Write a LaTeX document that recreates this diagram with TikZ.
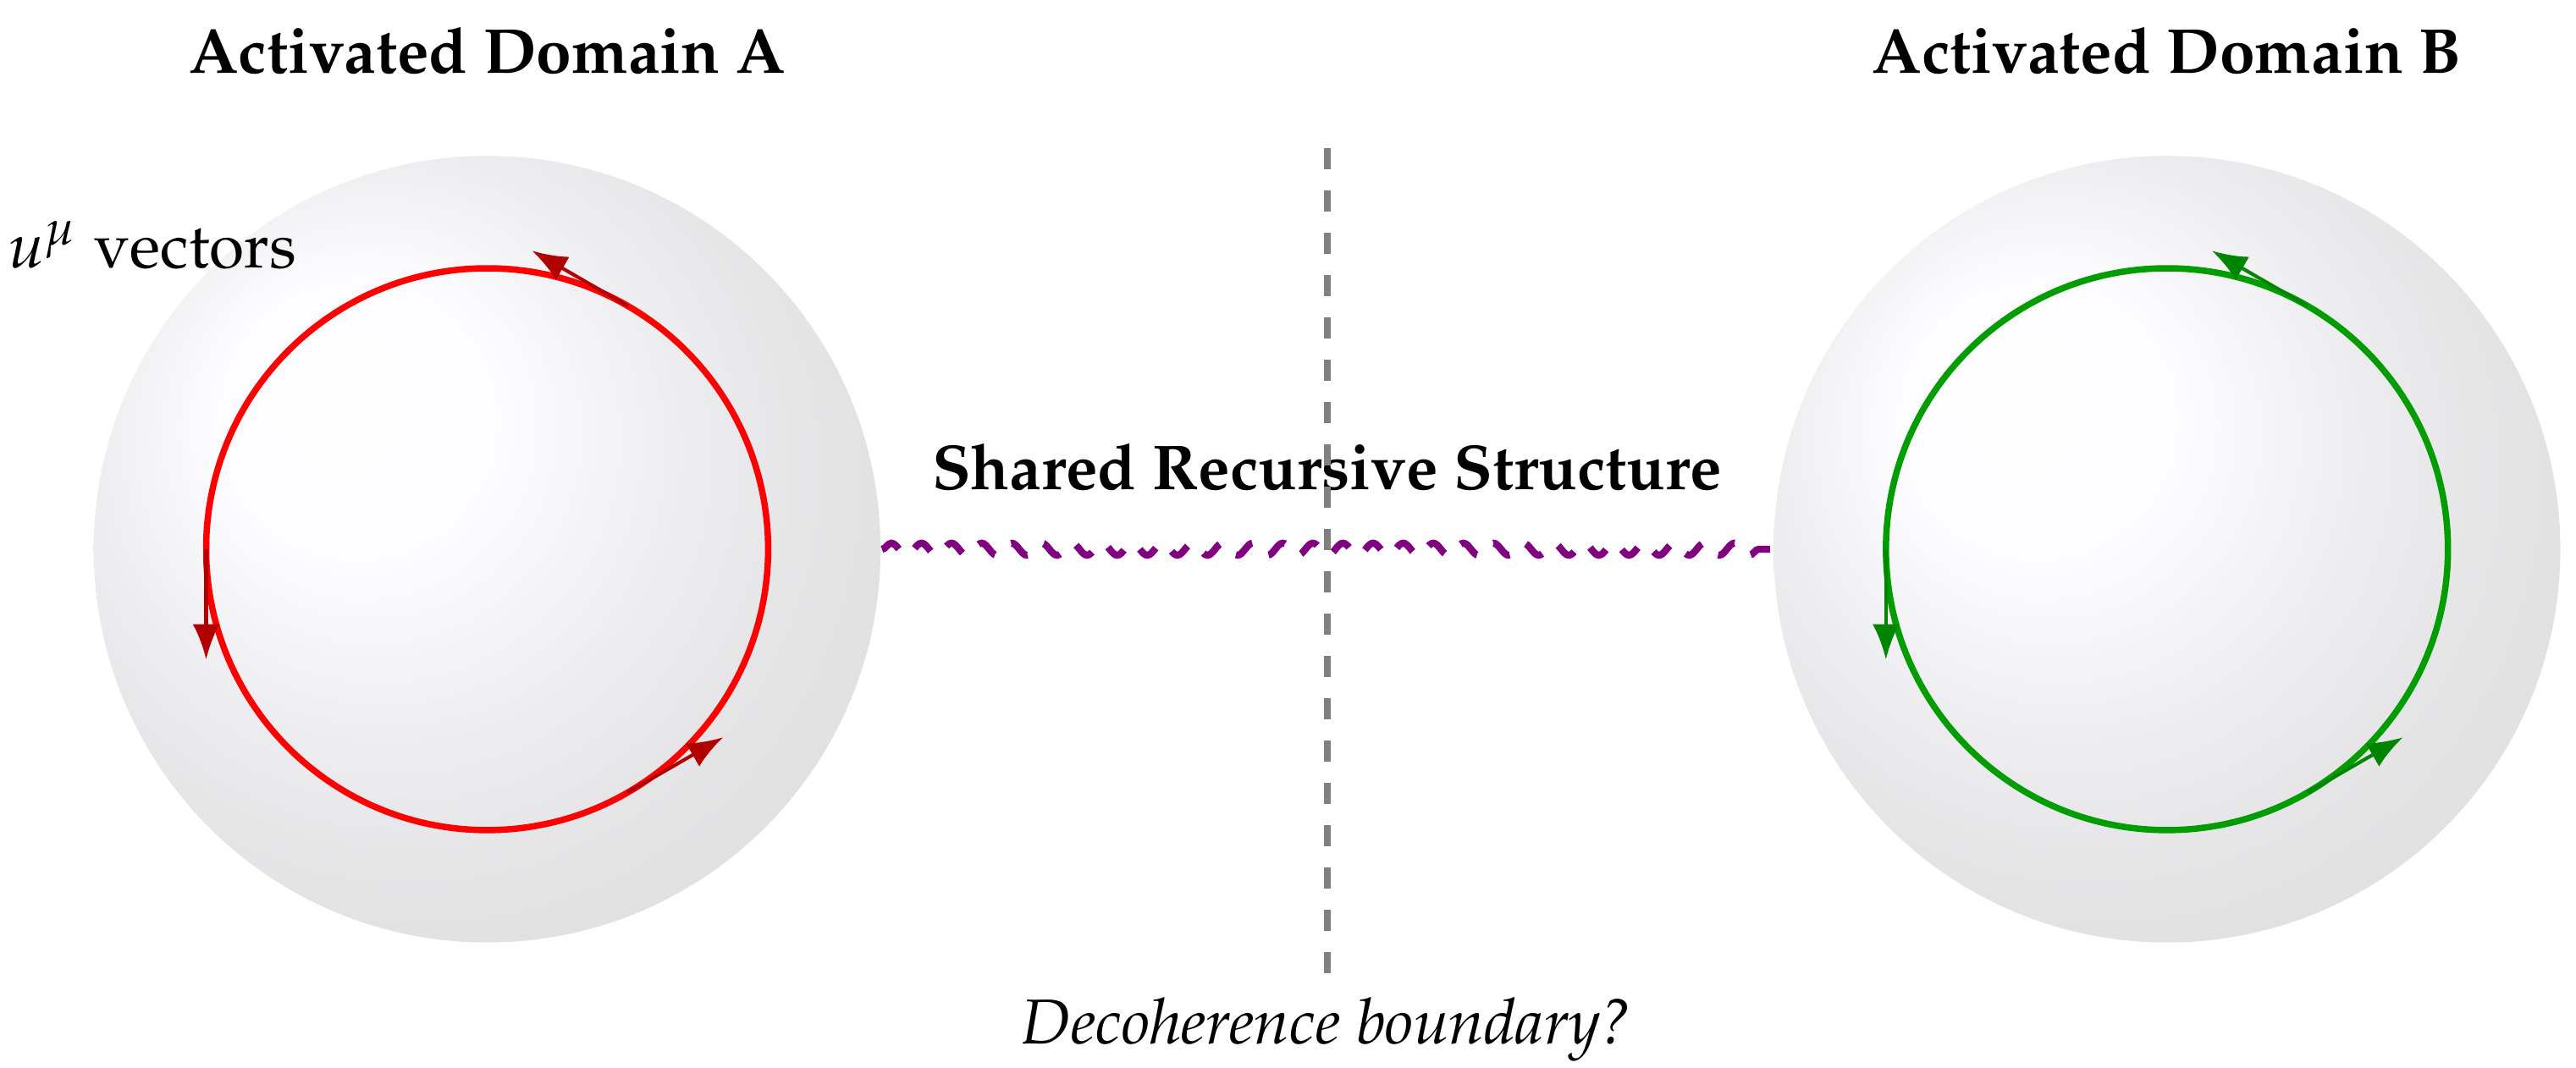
\documentclass[tikz,border=0pt]{standalone}
\usepackage[T1]{fontenc}
\usepackage{mathpazo}
\usepackage{tikz}
\usetikzlibrary{arrows.meta,calc,decorations.pathmorphing}
\definecolor{lazoA}{HTML}{FF0000}
\definecolor{vecA}{HTML}{B00000}
\definecolor{lazoB}{HTML}{009C00}
\definecolor{vecB}{HTML}{008500}
\definecolor{puente}{HTML}{800080}
\definecolor{bola}{HTML}{EDEDFF}

\begin{document}
\begin{tikzpicture}[>={Latex[length=5pt,width=3.8pt]},
    every node/.style={font=\small},
    dominio/.style={circle,minimum size=3.92cm,inner sep=0pt,shading=ball,ball color=bola,opacity=0.19},
    lazo/.style={line width=0.9pt},
    vec/.style={->,line width=0.5pt},
    titulo/.style={font=\small\bfseries}]
        \useasboundingbox (-2.427,-2.585) rectangle (10.407,2.737);
        % dominios
        \node[dominio] (domA) at (0,0) {};
        \node[dominio] (domB) at (8.369,0) {};
        \node[titulo] (titA) at (0,2.485) {Activated Domain A};
        \node[titulo] (titB) at (8.369,2.485) {Activated Domain B};
        % lazos y vectores tangentes
        \draw[lazo,lazoA] (domA.center) circle (1.4);
        \draw[lazo,lazoB] (domB.center) circle (1.4);
        \foreach \a in {60,180,300}{
          \draw[vec,vecA] ($(domA.center)+(\a:1.4)$) -- ++(\a+90:0.55);
          \draw[vec,vecB] ($(domB.center)+(\a:1.4)$) -- ++(\a+90:0.55);
        }
        \node (umu) at (-1.669,1.516) {$u^{\mu}$ vectors};
        % estructura compartida y frontera
        \node[titulo] (comp) at (4.185,0.41) {Shared Recursive Structure};
        \coordinate (fronS) at (4.185,2);
        \coordinate (fronI) at (4.185,-2.2);
        \draw[gray,line width=1pt,dashed] (fronS) -- (fronI);
        \node[anchor=base,font=\small\itshape] (etiq) at (4.185,-2.467) {Decoherence boundary?};
        \draw[puente,line width=1pt,dashed,decorate,decoration={snake,amplitude=0.3mm,segment length=1.5mm}]
          (domA.east) -- (domB.west);
\end{tikzpicture}
\end{document}
